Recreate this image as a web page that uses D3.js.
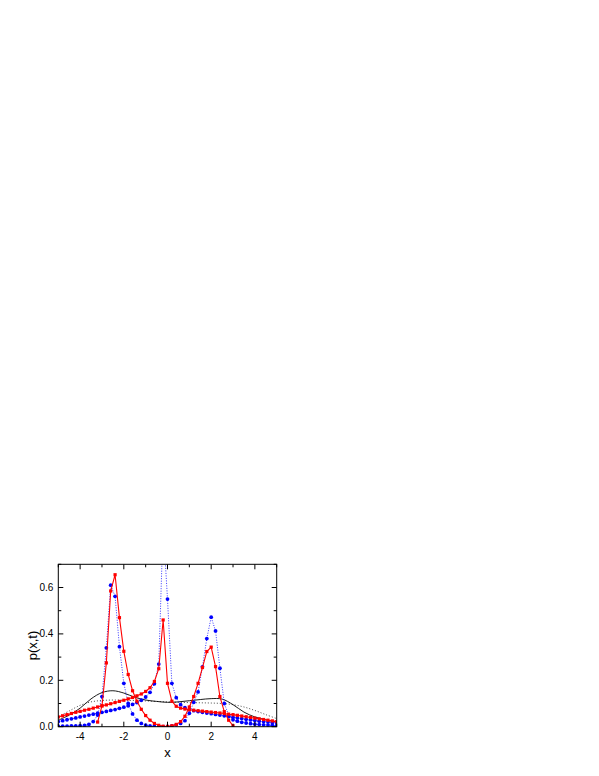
<!DOCTYPE html>
<html><head><meta charset="utf-8">
<script src="https://cdn.jsdelivr.net/npm/d3@7"></script>
<style>body{margin:0;background:#fff}svg{display:block}</style>
</head><body>
<script>
// x grid of the marker series (step 0.2)
const xGrid = [-5.0,-4.8,-4.6,-4.4,-4.2,-4.0,-3.8,-3.6,-3.4,-3.2,-3.0,-2.8,-2.6,-2.4,-2.2,-2.0,-1.8,-1.6,-1.4,-1.2,-1.0,-0.8,-0.6,-0.4,-0.2,0.0,0.2,0.4,0.6,0.8,1.0,1.2,1.4,1.6,1.8,2.0,2.2,2.4,2.6,2.8,3.0,3.2,3.4,3.6,3.8,4.0,4.2,4.4,4.6,4.8,5.0];
// red solid, three-peaked (defined from -3.2 to 3.0)
const xRedPeak = [-3.2,-3.0,-2.8,-2.6,-2.4,-2.2,-2.0,-1.8,-1.6,-1.4,-1.2,-1.0,-0.8,-0.6,-0.4,-0.2,0.0,0.2,0.4,0.6,0.8,1.0,1.2,1.4,1.6,1.8,2.0,2.2,2.4,2.6,2.8,3.0];
const redPeak = [0.02,0.09,0.275,0.585,0.655,0.47,0.325,0.225,0.155,0.11,0.075,0.048,0.028,0.014,0.006,0.002,0.001,0.004,0.01,0.022,0.045,0.085,0.13,0.187,0.255,0.324,0.343,0.259,0.13,0.065,0.028,0.004];
// blue dotted, peaked
const bluePeak = [0.002,0.002,0.002,0.003,0.003,0.004,0.006,0.01,0.022,0.05,0.13,0.34,0.61,0.562,0.345,0.187,0.1,0.055,0.028,0.014,0.007,0.003,0.001,0.0,0.0,0.001,0.003,0.008,0.014,0.026,0.058,0.105,0.15,0.258,0.38,0.472,0.413,0.252,0.1,0.05,0.03,0.024,0.019,0.016,0.013,0.011,0.009,0.008,0.007,0.006,0.005];
// red solid, broad with spike
const redBroad = [0.042,0.047,0.052,0.057,0.062,0.066,0.071,0.075,0.08,0.085,0.09,0.094,0.099,0.104,0.109,0.114,0.12,0.126,0.133,0.141,0.152,0.168,0.195,0.25,0.46,0.187,0.11,0.088,0.08,0.076,0.073,0.071,0.069,0.067,0.065,0.063,0.061,0.059,0.057,0.054,0.052,0.049,0.046,0.043,0.04,0.037,0.034,0.031,0.028,0.025,0.022];
// blue dotted, broad with spike
const blueBroad = [0.022,0.026,0.03,0.034,0.038,0.042,0.046,0.05,0.054,0.058,0.062,0.066,0.07,0.074,0.079,0.084,0.09,0.096,0.104,0.114,0.128,0.148,0.185,0.27,0.87,0.55,0.187,0.125,0.095,0.082,0.074,0.069,0.065,0.062,0.059,0.056,0.053,0.05,0.047,0.044,0.041,0.038,0.035,0.032,0.029,0.027,0.024,0.022,0.02,0.018,0.016];
// black curves (step 0.5)
const xLine = [-5,-4.5,-4,-3.5,-3,-2.5,-2,-1.5,-1,-0.5,0,0.5,1,1.5,2,2.5,3,3.5,4,4.5,5];
const blackSolid = [0.028,0.05,0.08,0.12,0.147,0.155,0.145,0.127,0.115,0.109,0.105,0.107,0.112,0.117,0.121,0.119,0.095,0.063,0.042,0.03,0.02];
const blackDotted = [0.043,0.068,0.092,0.107,0.113,0.115,0.114,0.113,0.111,0.109,0.107,0.105,0.104,0.103,0.102,0.1,0.095,0.085,0.07,0.052,0.035];
const xTicks = [-4,-2,0,2,4];
const yTicks = [0.0,0.2,0.4,0.6];

const W=599,H=776;
const L=58.3,R=276.7,T=564.3,B=726.7;
const svg=d3.select("body").append("svg").attr("width",W).attr("height",H);
const x=d3.scaleLinear().domain([-5,5]).range([L,R]);
const y=d3.scaleLinear().domain([0,0.7]).range([B,T]);

svg.append("clipPath").attr("id","clip").append("rect").attr("x",L).attr("y",T).attr("width",R-L).attr("height",B-T);
const g=svg.append("g").attr("clip-path","url(#clip)");

const lineLin=d3.line().x(d=>x(d[0])).y(d=>y(d[1]));
const lineSmooth=d3.line().x(d=>x(d[0])).y(d=>y(d[1])).curve(d3.curveCatmullRom);
const zip=(xs,ys)=>xs.map((v,i)=>[v,ys[i]]);

g.append("path").attr("d",lineSmooth(zip(xLine,blackDotted))).attr("fill","none").attr("stroke","#333").attr("stroke-width",0.9).attr("stroke-dasharray","1,2");
g.append("path").attr("d",lineSmooth(zip(xLine,blackSolid))).attr("fill","none").attr("stroke","#000").attr("stroke-width",0.9);

function blueSeries(vals){
  const d=zip(xGrid,vals);
  g.append("path").attr("d",lineLin(d)).attr("fill","none").attr("stroke","#0000ff").attr("stroke-width",0.8).attr("stroke-dasharray","1,1.5");
  g.selectAll(null).data(d).enter().append("circle").attr("cx",p=>x(p[0])).attr("cy",p=>y(p[1])).attr("r",1.9).attr("fill","#0000ff");
}
function redSeries(xs,vals){
  const d=zip(xs,vals);
  g.append("path").attr("d",lineLin(d)).attr("fill","none").attr("stroke","#ff0000").attr("stroke-width",1.1);
  g.selectAll(null).data(d).enter().append("rect").attr("x",p=>x(p[0])-1.6).attr("y",p=>y(p[1])-1.6).attr("width",3.2).attr("height",3.2).attr("fill","#ff0000");
}
blueSeries(blueBroad);
blueSeries(bluePeak);
redSeries(xGrid,redBroad);
redSeries(xRedPeak,redPeak);

// frame
svg.append("rect").attr("x",L).attr("y",T).attr("width",R-L).attr("height",B-T).attr("fill","none").attr("stroke","#000").attr("stroke-width",1);

// ticks (inward, all sides)
const xMinor=d3.range(-5,5.01,1);
const yMinor=d3.range(0,0.701,0.1);
const tk=svg.append("g").attr("stroke","#000").attr("stroke-width",1);
xMinor.forEach(v=>{
  const major=xTicks.some(t=>Math.abs(t-v)<1e-6);
  const len=major?5:3;
  tk.append("line").attr("x1",x(v)).attr("x2",x(v)).attr("y1",B).attr("y2",B-len);
  tk.append("line").attr("x1",x(v)).attr("x2",x(v)).attr("y1",T).attr("y2",T+len);
});
yMinor.forEach(v=>{
  const major=yTicks.some(t=>Math.abs(t-v)<1e-6);
  const len=major?5:3;
  tk.append("line").attr("y1",y(v)).attr("y2",y(v)).attr("x1",L).attr("x2",L+len);
  tk.append("line").attr("y1",y(v)).attr("y2",y(v)).attr("x1",R).attr("x2",R-len);
});

const font="Liberation Sans, Arial, sans-serif";
svg.append("g").selectAll("text").data(xTicks).enter().append("text")
  .attr("x",d=>x(d)).attr("y",B+13).attr("text-anchor","middle")
  .attr("font-family",font).attr("font-size",10).text(d=>d);
svg.append("g").selectAll("text").data(yTicks).enter().append("text")
  .attr("x",L-5).attr("y",d=>y(d)+3.5).attr("text-anchor","end")
  .attr("font-family",font).attr("font-size",10).text(d=>d3.format(".1f")(d));
svg.append("text").attr("x",(L+R)/2).attr("y",757).attr("text-anchor","middle")
  .attr("font-family",font).attr("font-size",13).text("x");
svg.append("text").attr("transform",`translate(37,${(T+B)/2}) rotate(-90)`).attr("text-anchor","middle")
  .attr("font-family",font).attr("font-size",13).text("p(x,t)");
</script>
</body></html>
